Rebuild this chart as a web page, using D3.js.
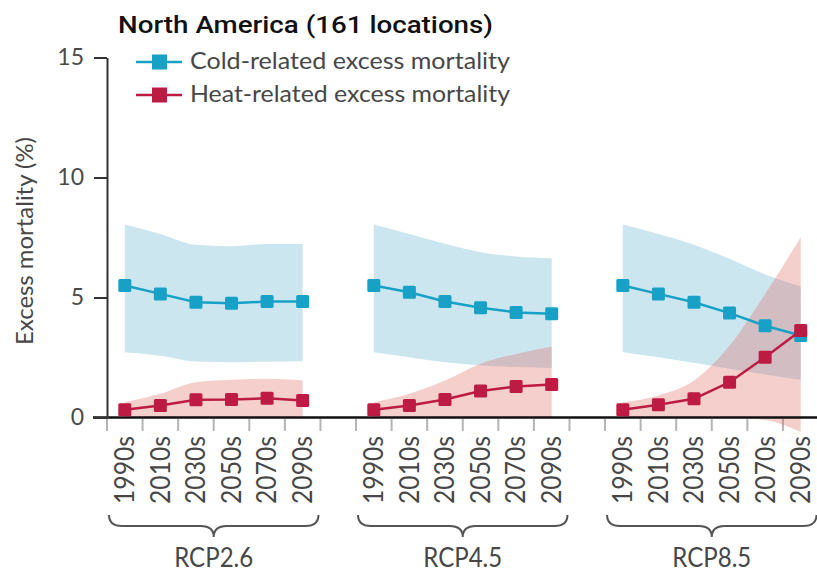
<!DOCTYPE html>
<html>
<head>
<meta charset="utf-8">
<script src="https://cdn.jsdelivr.net/npm/d3@7"></script>
<style>
    body { margin: 0; background: #fff; }
    text { font-family: Lato, "Open Sans", sans-serif; fill: #474747; }
</style>
</head>
<body>
<script>
const scenarios = ["RCP2.6", "RCP4.5", "RCP8.5"];
const decades = ["1990s", "2010s", "2030s", "2050s", "2070s", "2090s"];
const yTicks = [0, 5, 10, 15];

// one row per scenario, one value per decade (% excess mortality)
const coldMean = [
    [5.5, 5.15, 4.8, 4.76, 4.83, 4.83],
    [5.5, 5.22, 4.83, 4.57, 4.38, 4.32],
    [5.5, 5.15, 4.8, 4.35, 3.82, 3.42]
];
const coldLow = [
    [2.72, 2.57, 2.33, 2.3, 2.32, 2.35],
    [2.72, 2.51, 2.3, 2.17, 2.1, 2.06],
    [2.72, 2.51, 2.28, 2.03, 1.79, 1.57]
];
const coldHigh = [
    [8.04, 7.65, 7.2, 7.14, 7.23, 7.23],
    [8.04, 7.65, 7.24, 6.89, 6.71, 6.64],
    [8.04, 7.65, 7.2, 6.61, 5.96, 5.46]
];
const heatMean = [
    [0.32, 0.5, 0.74, 0.75, 0.8, 0.71],
    [0.32, 0.5, 0.75, 1.1, 1.29, 1.37],
    [0.32, 0.53, 0.78, 1.47, 2.51, 3.63]
];
const heatLow = [
    [0, 0, 0, 0, 0, 0],
    [0, 0, 0, 0, 0, 0],
    [0, 0, 0, 0, -0.1, -0.6]
];
const heatHigh = [
    [0.64, 0.99, 1.47, 1.57, 1.61, 1.54],
    [0.64, 0.99, 1.54, 2.24, 2.65, 2.96],
    [0.64, 0.92, 1.54, 3.0, 5.15, 7.51]
];

const series = [
    { name: "Cold-related excess mortality", mean: coldMean, low: coldLow, high: coldHigh,
      color: "#17a1c6", band: "rgb(100,180,210)" },
    { name: "Heat-related excess mortality", mean: heatMean, low: heatLow, high: heatHigh,
      color: "#bd1a44", band: "rgb(222,110,100)" }
];

var drawChart = function () {
    const width = 817, height = 573;

    const svg = d3.select("body").append("svg")
        .attr("width", width)
        .attr("height", height);

    // 6 decades per scenario plus one empty slot between scenarios
    const slots = scenarios.length * (decades.length + 1) - 1;
    const x = d3.scaleBand().domain(d3.range(slots)).range([107, 818.5]);
    const y = d3.scaleLinear().domain([0, 15]).range([417.5, 57.5]);
    const slot = (s, i) => s * (decades.length + 1) + i;
    const cx = (s, i) => x(slot(s, i)) + x.bandwidth() / 2;

    // title
    svg.append("text")
        .attr("x", 118).attr("y", 33)
        .style("font-family", "Roboto, 'Liberation Sans', Arial, sans-serif")
        .style("font-weight", 500)
        .style("font-size", "23px")
        .style("fill", "#111")
        .attr("textLength", 375)
        .attr("lengthAdjust", "spacingAndGlyphs")
        .text("North America (161 locations)");

    // gray ticks under the x axis, at slot edges
    svg.append("g").selectAll("line")
        .data(d3.range(slots))
        .enter().append("line")
        .attr("x1", d => x(d)).attr("x2", d => x(d))
        .attr("y1", 419).attr("y2", 431)
        .style("stroke", "#b4b4b4")
        .style("stroke-width", 2);

    // uncertainty bands
    const area = d3.area()
        .x(d => d.x)
        .y0(d => y(d.lo))
        .y1(d => y(d.hi))
        .curve(d3.curveMonotoneX);

    series.forEach(sr => {
        scenarios.forEach((sc, s) => {
            const pts = decades.map((dec, i) => ({ x: cx(s, i), lo: sr.low[s][i], hi: sr.high[s][i] }));
            svg.append("path")
                .attr("d", area(pts))
                .style("fill", sr.band)
                .style("fill-opacity", 0.33);
        });
    });

    // x axis line
    svg.append("line")
        .attr("x1", 93).attr("x2", width)
        .attr("y1", y(0)).attr("y2", y(0))
        .style("stroke", "#111")
        .style("stroke-width", 2.5);

    // y axis
    const yAxis = svg.append("g")
        .attr("transform", "translate(" + x(0) + ",0)")
        .call(d3.axisLeft(y).tickValues(yTicks).tickSize(13).tickSizeOuter(0).tickPadding(10));
    yAxis.select(".domain").style("stroke", "#333").style("stroke-width", 2);
    yAxis.selectAll(".tick line").style("stroke", "#333").style("stroke-width", 2);
    yAxis.selectAll(".tick text")
        .style("font-family", "Lato, sans-serif")
        .style("font-size", "23px")
        .style("fill", "#4a4a4a");

    svg.append("text")
        .attr("transform", "translate(33,241) rotate(-90)")
        .style("text-anchor", "middle")
        .style("font-size", "23px")
        .attr("textLength", 208)
        .attr("lengthAdjust", "spacingAndGlyphs")
        .text("Excess mortality (%)");

    // lines and square markers
    const line = d3.line().x(d => d.x).y(d => y(d.v));

    series.forEach(sr => {
        scenarios.forEach((sc, s) => {
            const pts = decades.map((dec, i) => ({ x: cx(s, i), v: sr.mean[s][i] }));
            svg.append("path")
                .attr("d", line(pts))
                .style("fill", "none")
                .style("stroke", sr.color)
                .style("stroke-width", 2.5);
            svg.append("g").selectAll("rect")
                .data(pts)
                .enter().append("rect")
                .attr("x", d => d.x - 6.5)
                .attr("y", d => y(d.v) - 6.5)
                .attr("width", 13).attr("height", 13)
                .attr("rx", 1.5)
                .style("fill", sr.color);
        });
    });

    // decade labels and scenario braces
    scenarios.forEach((sc, s) => {
        const g = svg.append("g");
        g.selectAll("text")
            .data(decades)
            .enter().append("text")
            .attr("transform", (d, i) => "translate(" + cx(s, i) + ",436) rotate(-90)")
            .attr("dy", "0.36em")
            .style("text-anchor", "end")
            .style("font-size", "26px")
            .attr("textLength", 68)
            .attr("lengthAdjust", "spacingAndGlyphs")
            .text(d => d);

        const x0 = x(slot(s, 0)) + 2,
            x1 = x(slot(s, decades.length - 1)) + x.bandwidth() - 2,
            xm = (x0 + x1) / 2,
            top = 515, mid = 526, tip = 537, r = 13;
        g.append("path")
            .attr("d", "M" + x0 + "," + top
                + "Q" + x0 + "," + mid + " " + (x0 + r) + "," + mid
                + "L" + (xm - r) + "," + mid
                + "Q" + xm + "," + mid + " " + xm + "," + tip
                + "Q" + xm + "," + mid + " " + (xm + r) + "," + mid
                + "L" + (x1 - r) + "," + mid
                + "Q" + x1 + "," + mid + " " + x1 + "," + top)
            .style("fill", "none")
            .style("stroke", "#555")
            .style("stroke-width", 2);

        g.append("text")
            .attr("x", xm).attr("y", 567)
            .style("text-anchor", "middle")
            .style("font-size", "26px")
            .attr("textLength", 79)
            .attr("lengthAdjust", "spacingAndGlyphs")
            .text(sc);
    });

    // legend
    const legend = svg.append("g").selectAll("g")
        .data(series)
        .enter().append("g")
        .attr("transform", (d, i) => "translate(0," + (62 + i * 33) + ")");
    legend.append("line")
        .attr("x1", 136).attr("x2", 182)
        .style("stroke", d => d.color)
        .style("stroke-width", 2.5);
    legend.append("rect")
        .attr("x", 152).attr("y", -7.5)
        .attr("width", 15).attr("height", 15)
        .style("fill", d => d.color);
    legend.append("text")
        .attr("x", 190).attr("y", 7)
        .style("font-size", "23px")
        .attr("textLength", 320)
        .attr("lengthAdjust", "spacingAndGlyphs")
        .text(d => d.name);
}

drawChart();
</script>
</body>
</html>
